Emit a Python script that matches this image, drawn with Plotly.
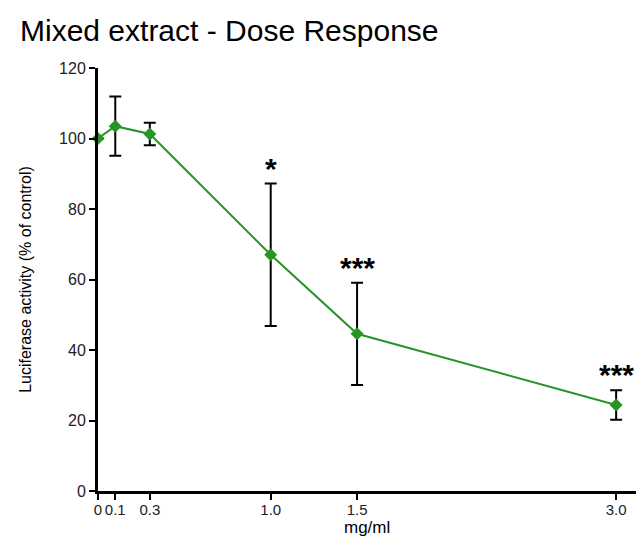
import plotly.graph_objects as go

dose = [0, 0.1, 0.3, 1.0, 1.5, 3.0]
activity = [100, 103.5, 101.3, 67.0, 44.6, 24.4]
err = [0, 8.4, 3.2, 20.2, 14.5, 4.2]
tick_vals = [0, 0.1, 0.3, 1.0, 1.5, 3.0]
tick_text = ["0", "0.1", "0.3", "1.0", "1.5", "3.0"]
sig_x = [1.0, 1.5, 3.0]
sig_label = ["*", "***", "***"]

green = "#269426"
font_family = "Liberation Sans, Arial, sans-serif"

fig = go.Figure()
fig.add_trace(go.Scatter(
    x=dose, y=activity,
    mode="lines+markers",
    line=dict(color=green, width=2),
    marker=dict(symbol="diamond", size=10, color=green),
    error_y=dict(type="data", array=err, visible=True, color="black", thickness=2, width=6),
    cliponaxis=False,
    showlegend=False,
))

for sx, lab in zip(sig_x, sig_label):
    i = dose.index(sx)
    fig.add_annotation(
        x=sx, y=activity[i] + err[i], xref="x", yref="y",
        text="<b>" + lab + "</b>", showarrow=False, yanchor="bottom", yshift=-3,
        font=dict(size=30, color="black", family=font_family),
    )

# x-axis title placed just below the tick labels
fig.add_annotation(
    x=0.5, y=-(527 - 491) / 423, xref="paper", yref="paper",
    text="mg/ml", showarrow=False, yanchor="middle", xanchor="center",
    font=dict(size=17, color="black", family=font_family),
)

fig.update_layout(
    width=636, height=537,
    margin=dict(l=98, r=0, t=68, b=46),
    paper_bgcolor="white", plot_bgcolor="white",
    font=dict(family=font_family, color="black"),
    title=dict(text="Mixed extract - Dose Response", x=20/636, xanchor="left",
               y=1 - 30/537, yanchor="middle", xref="container", yref="container",
               font=dict(size=30, color="black")),
    xaxis=dict(range=[0, 3.115], tickvals=tick_vals, ticktext=tick_text,
               showgrid=False, zeroline=False, showline=True, linecolor="black", linewidth=3,
               ticks="outside", ticklen=6, tickwidth=2, tickcolor="black",
               tickangle=0, ticklabelstandoff=-3,
               tickfont=dict(size=15, color="#222222")),
    yaxis=dict(range=[0, 120], tickvals=[0, 20, 40, 60, 80, 100, 120],
               showgrid=False, zeroline=False, showline=True, linecolor="black", linewidth=3,
               ticks="outside", ticklen=6, tickwidth=2, tickcolor="black",
               tickfont=dict(size=16, color="#222222"),
               title=dict(text="Luciferase activity (% of control)", font=dict(size=16), standoff=24)),
)

fig.write_html("out.html")
